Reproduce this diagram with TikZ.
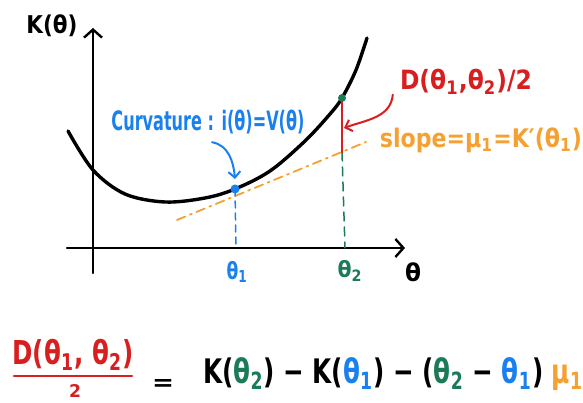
\documentclass[tikz,border=0pt]{standalone}
\usepackage{fontspec}
\setmainfont{DejaVu Sans}
\usetikzlibrary{arrows.meta,calc}
\definecolor{cblue}{HTML}{1A80F0}
\definecolor{cgreen}{HTML}{1B7A58}
\definecolor{cred}{HTML}{D81E1E}
\definecolor{corange}{HTML}{F5A030}
\newcommand{\sbs}[1]{\textsubscript{#1}}
\begin{document}
\begin{tikzpicture}[x=1pt,y=-1pt, line cap=round, line join=round,
  axis/.style={line width=2.4pt, -{Straight Barb[length=8pt,width=18pt,line width=2.4pt]}},
  barb/.style={-{Straight Barb[length=6pt,width=12pt,line width=2pt]}},
  lbl/.style={inner sep=0pt, anchor=center, font=\bfseries},
  dot/.style={circle, inner sep=0pt, minimum size=9pt, fill=#1},
  ]
\useasboundingbox (0,0) rectangle (583,403);
% axes
\coordinate (yb) at (93,273);
\coordinate (yt) at (93,28);
\coordinate (xl) at (67,248);
\coordinate (xr) at (405,248);
\draw[axis] (yb) -- (yt);
\draw[axis] (xl) -- (xr);
% points
\coordinate (p1) at (235,189);
\coordinate (p2) at (342,98);
\coordinate (r1) at (342,128);
\coordinate (r2) at (342,152);
\coordinate (b1) at (236,248);
\coordinate (g1) at (345,248);
\coordinate (t1) at (177,220);
\coordinate (t2) at (366,142);
% tangent line
\draw[corange, line width=1.8pt, dash pattern=on 9pt off 5pt on 2pt off 5pt] (t1) -- (t2);
% drop lines
\draw[cblue, line width=1.5pt, dash pattern=on 7pt off 5pt] (p1) -- (b1);
\draw[cgreen, line width=1.5pt, dash pattern=on 9pt off 6pt] (r2) -- (g1);
% curve
\draw[line width=3.4pt] plot[smooth, tension=0.55] coordinates {(68,131) (93,170) (125,194) (165,202) (205,198) (235,189) (270,171) (305,141) (330,114) (342,98) (356,70) (367,38)};
% red segment
\draw[cred, line width=2.6pt] (p2) -- (r2);
% dots
\node[dot=cblue] (d1) at (p1) {};
\node[dot=cgreen, minimum size=8pt] (d2) at (p2) {};
% labels
\node[lbl] (K) at (52,26) {\resizebox*{51pt}{22pt}{K(θ)}};
\node[lbl] (th) at (413,272) {\resizebox*{16pt}{19pt}{θ}};
\node[lbl, text=cblue] (th1) at (237,272) {\resizebox*{21pt}{22pt}{θ\sbs{1}}};
\node[lbl, text=cgreen] (th2) at (350,271) {\resizebox*{25pt}{21pt}{θ\sbs{2}}};
\node[lbl, text=cblue] (curv) at (208,122) {\resizebox*{193pt}{24pt}{Curvature : i(θ)=V(θ)}};
\node[lbl, text=cred] (D) at (466,82) {\resizebox*{132pt}{25pt}{D(θ\sbs{1},θ\sbs{2})/2}};
\node[lbl, text=corange] (slope) at (481,140) {\resizebox*{202pt}{25pt}{slope=μ\sbs{1}=K′(θ\sbs{1})}};
% connectors
\draw[cblue, line width=2pt, barb] ($(curv.south)+(4,8)$) to[out=-10, in=95] ($(d1)+(0,-10)$);
\draw[cred, line width=2pt, barb] ($(D.south west)+(-7,0)$) to[out=-95, in=20] ($(r1)+(2,0)$);
% equation
\node[lbl, text=cred] (num) at (73,355) {\resizebox*{121pt}{31pt}{D(θ\sbs{1}, θ\sbs{2})}};
\coordinate (u1) at (14,376);
\coordinate (u2) at (132,376);
\draw[cred, line width=2.6pt] (u1) -- (u2);
\node[lbl, text=cred] (den) at (75,391) {\resizebox*{12pt}{13pt}{2}};
\node[lbl] (eq) at (163,385) {\resizebox*{22pt}{11pt}{=}};
\node[lbl, anchor=west] (rhs) at (203,374) {\resizebox*{380pt}{33pt}{K(\textcolor{cgreen}{θ\sbs{2}}) − K(\textcolor{cblue}{θ\sbs{1}}) − (\textcolor{cgreen}{θ\sbs{2}} − \textcolor{cblue}{θ\sbs{1}}) \textcolor{corange}{μ\sbs{1}}}};
\end{tikzpicture}
\end{document}
